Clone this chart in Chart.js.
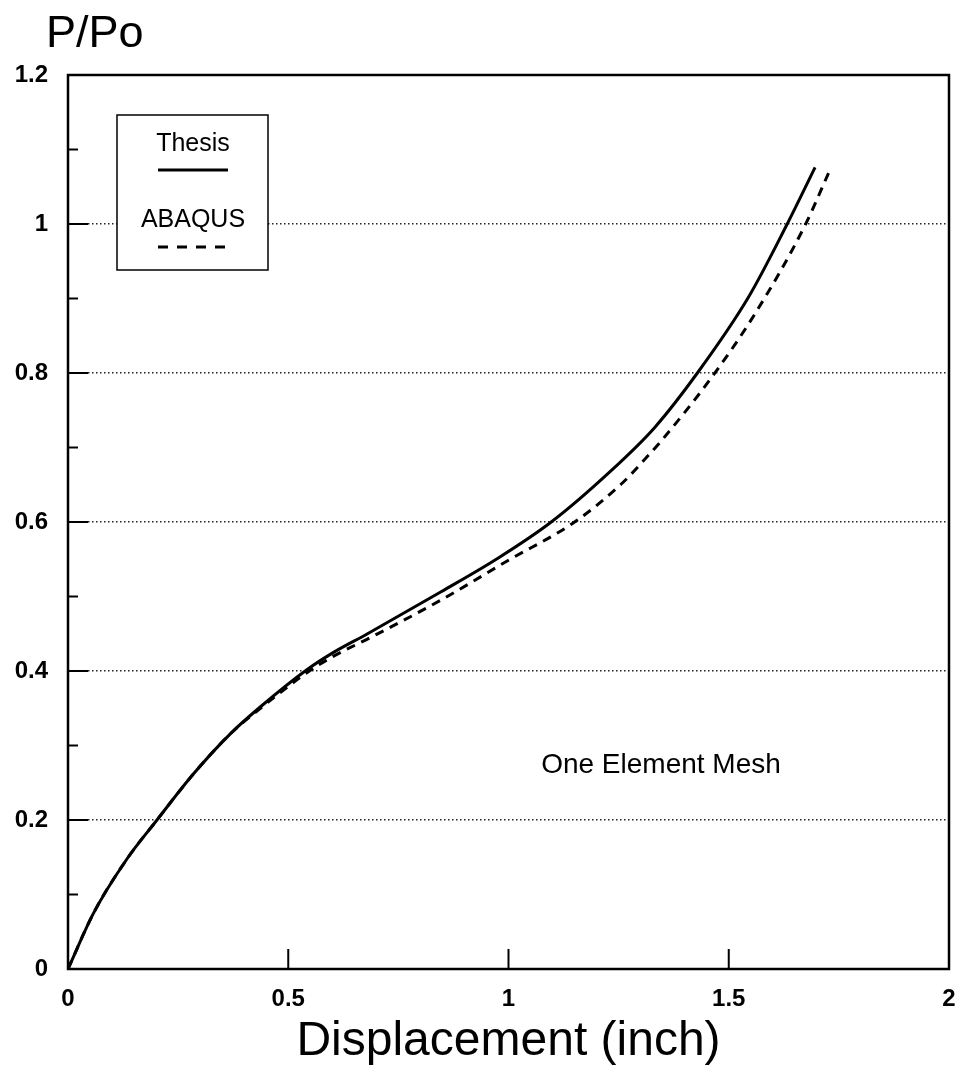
<!DOCTYPE html>
<html>
<head>
<meta charset="utf-8">
<title>P/Po vs Displacement</title>
<script src="https://cdn.jsdelivr.net/npm/chart.js@4.4.1/dist/chart.umd.min.js"></script>
<style>
  html, body { margin: 0; padding: 0; background: #fff; }
  #wrap { width: 963px; height: 1076px; }
</style>
</head>
<body>
<div id="wrap"><canvas id="chart" width="963" height="1076"></canvas></div>
<script>
// Thesis curve (solid)
const thesisX = [0, 0.058, 0.133, 0.202, 0.285, 0.369, 0.437, 0.543, 0.600, 0.680, 0.846, 0.975, 1.097, 1.233, 1.332, 1.430, 1.544, 1.631, 1.696];
const thesisY = [0, 0.075, 0.147, 0.200, 0.262, 0.316, 0.352, 0.402, 0.424, 0.450, 0.506, 0.551, 0.600, 0.669, 0.727, 0.801, 0.901, 0.998, 1.076];

// ABAQUS curve (dashed)
const abaqusX = [0, 0.058, 0.133, 0.202, 0.285, 0.369, 0.437, 0.543, 0.600, 0.687, 0.846, 0.998, 1.150, 1.256, 1.320, 1.347, 1.461, 1.559, 1.673, 1.730];
const abaqusY = [0, 0.075, 0.147, 0.200, 0.262, 0.316, 0.350, 0.398, 0.419, 0.445, 0.495, 0.548, 0.600, 0.651, 0.691, 0.709, 0.794, 0.879, 0.998, 1.073];

// axis ticks
const xTicks = [0, 0.5, 1, 1.5, 2];
const yTicks = [0, 0.2, 0.4, 0.6, 0.8, 1.0, 1.2];
const yMinorTicks = [0.1, 0.3, 0.5, 0.7, 0.9, 1.1];

const FONT = '"Liberation Sans", Arial, Helvetica, sans-serif';

function toPoints(xs, ys) {
  return xs.map((x, i) => ({ x: x, y: ys[i] }));
}

function fmt(v) {
  return String(+v.toFixed(2));
}

// Frame, inward tick marks, legend box and annotation
const decorPlugin = {
  id: 'decor',
  afterDraw(chart) {
    const ctx = chart.ctx;
    const area = chart.chartArea;
    const xs = chart.scales.x;
    const ys = chart.scales.y;

    ctx.save();
    ctx.strokeStyle = '#000';
    ctx.lineWidth = 2.5;
    ctx.strokeRect(area.left, area.top, area.right - area.left, area.bottom - area.top);

    // y ticks (major + minor), pointing inward
    ctx.lineWidth = 2;
    yTicks.forEach(v => {
      const py = ys.getPixelForValue(v);
      ctx.beginPath();
      ctx.moveTo(area.left, py);
      ctx.lineTo(area.left + 20, py);
      ctx.stroke();
    });
    yMinorTicks.forEach(v => {
      const py = ys.getPixelForValue(v);
      ctx.beginPath();
      ctx.moveTo(area.left, py);
      ctx.lineTo(area.left + 10, py);
      ctx.stroke();
    });
    // x ticks, pointing inward
    xTicks.slice(1, -1).forEach(v => {
      const px = xs.getPixelForValue(v);
      ctx.beginPath();
      ctx.moveTo(px, area.bottom);
      ctx.lineTo(px, area.bottom - 20);
      ctx.stroke();
    });

    // y axis title at top left
    ctx.fillStyle = '#000';
    ctx.font = '45px ' + FONT;
    ctx.textAlign = 'left';
    ctx.textBaseline = 'alphabetic';
    ctx.fillText('P/Po', 46, 47);

    // legend box
    const bx = area.left + 49, by = area.top + 40;
    ctx.fillStyle = '#fff';
    ctx.fillRect(bx, by, 151, 155);
    ctx.lineWidth = 1.5;
    ctx.strokeRect(bx, by, 151, 155);
    ctx.fillStyle = '#000';
    ctx.font = '25px ' + FONT;
    ctx.textAlign = 'center';
    ctx.fillText('Thesis', bx + 76, by + 36);
    ctx.fillText('ABAQUS', bx + 76, by + 112);
    ctx.lineWidth = 3;
    ctx.beginPath();
    ctx.moveTo(bx + 41, by + 55);
    ctx.lineTo(bx + 111, by + 55);
    ctx.stroke();
    ctx.setLineDash([10, 9]);
    ctx.beginPath();
    ctx.moveTo(bx + 41, by + 132);
    ctx.lineTo(bx + 111, by + 132);
    ctx.stroke();
    ctx.setLineDash([]);

    // annotation
    ctx.font = '28px ' + FONT;
    ctx.fillText('One Element Mesh', 661, 773);
    ctx.restore();
  }
};

const ctx = document.getElementById('chart');

new Chart(ctx, {
  type: 'line',
  data: {
    datasets: [
      {
        label: 'Thesis',
        data: toPoints(thesisX, thesisY),
        borderColor: '#000',
        borderWidth: 3,
        pointRadius: 0,
        cubicInterpolationMode: 'monotone',
        fill: false
      },
      {
        label: 'ABAQUS',
        data: toPoints(abaqusX, abaqusY),
        borderColor: '#000',
        borderWidth: 3,
        borderDash: [9, 7],
        pointRadius: 0,
        cubicInterpolationMode: 'monotone',
        fill: false
      }
    ]
  },
  options: {
    responsive: false,
    animation: false,
    devicePixelRatio: 1,
    layout: {
      padding: { top: 75, right: 14, left: 0, bottom: 0 }
    },
    plugins: {
      legend: { display: false },
      tooltip: { enabled: false },
      title: { display: false }
    },
    scales: {
      x: {
        type: 'linear',
        min: 0,
        max: 2,
        afterFit: function(scale) {
          scale.height = 107;
          scale.paddingLeft = 0;
          scale.paddingRight = 0;
        },
        afterBuildTicks: function(scale) {
          scale.ticks = xTicks.map(v => ({ value: v }));
        },
        ticks: {
          color: '#000',
          padding: 16,
          maxRotation: 0,
          callback: fmt,
          font: { family: FONT, size: 24, weight: 'bold' }
        },
        grid: { display: false, drawTicks: false },
        border: { display: false },
        title: {
          display: true,
          text: 'Displacement (inch)',
          color: '#000',
          font: { family: FONT, size: 48 },
          padding: { top: 0, bottom: 5 }
        }
      },
      y: {
        type: 'linear',
        min: 0,
        max: 1.2,
        afterFit: function(scale) { scale.width = 68; },
        afterBuildTicks: function(scale) {
          scale.ticks = yTicks.map(v => ({ value: v }));
        },
        ticks: {
          color: '#000',
          padding: 20,
          callback: fmt,
          font: { family: FONT, size: 24, weight: 'bold' }
        },
        grid: {
          drawTicks: false,
          lineWidth: 1.5,
          color: function(c) {
            const v = c.tick ? c.tick.value : 0;
            return (v > 0.01 && v < 1.19) ? '#222' : 'rgba(0,0,0,0)';
          }
        },
        border: { display: false, dash: [1.5, 2.5] }
      }
    }
  },
  plugins: [decorPlugin]
});
</script>
</body>
</html>
